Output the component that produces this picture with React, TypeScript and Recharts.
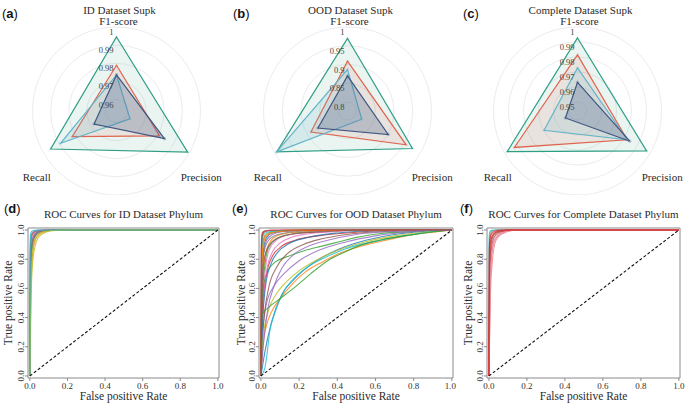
import React from 'react';
import {
  LineChart,
  Line,
  XAxis,
  YAxis,
  ReferenceArea,
  RadarChart,
  Radar,
  PolarGrid,
  PolarAngleAxis,
  PolarRadiusAxis
} from 'recharts';

const SERIF = '"Liberation Serif", "Times New Roman", serif';
const SANS = '"Liberation Sans", Arial, sans-serif';
const INK = '#2b2b2b';

// ---- radar scores (order: F1-score, Precision, Recall) ----
const metrics = ['F1-score', 'Precision', 'Recall'];

const idTeal = [0.9945, 0.999, 0.9956];
const idRed = [0.9789, 0.9811, 0.9819];
const idSky = [0.9736, 0.9623, 0.9893];
const idNavy = [0.9736, 0.9842, 0.968];

const oodTeal = [0.9693, 0.9759, 0.994];
const oodRed = [0.9088, 0.9565, 0.8885];
const oodSky = [0.8867, 0.8197, 0.994];
const oodNavy = [0.8696, 0.9013, 0.867];

const allTeal = [0.9927, 0.9972, 0.9981];
const allRed = [0.9814, 0.9823, 0.9926];
const allSky = [0.9727, 0.9823, 0.9697];
const allNavy = [0.9631, 0.9843, 0.9533];

const idTicks = [0.96, 0.97, 0.98, 0.99, 1];
const oodTicks = [0.8, 0.85, 0.9, 0.95, 1];
const allTicks = [0.95, 0.96, 0.97, 0.98, 0.99, 1];

// ---- ROC curves, [fpr, tpr] ----
const rocTicks = [0, 0.2, 0.4, 0.6, 0.8, 1];
const chance = [[0, 0], [1, 1]];

const idRoc = [
  [[0, 0], [0.004, 0.62], [0.01, 0.84], [0.02, 0.93], [0.035, 0.97], [0.06, 0.99], [0.12, 1], [1, 1]],
  [[0, 0], [0.005, 0.58], [0.012, 0.8], [0.024, 0.91], [0.04, 0.96], [0.07, 0.985], [0.14, 1], [1, 1]],
  [[0, 0], [0.003, 0.66], [0.008, 0.86], [0.016, 0.94], [0.03, 0.975], [0.06, 0.993], [0.12, 1], [1, 1]],
  [[0, 0], [0.002, 0.78], [0.006, 0.92], [0.014, 0.97], [0.03, 0.99], [0.08, 1], [1, 1]],
  [[0, 0], [0.003, 0.72], [0.008, 0.9], [0.018, 0.96], [0.035, 0.985], [0.07, 0.997], [0.15, 1], [1, 1]],
  [[0, 0], [0.004, 0.68], [0.01, 0.87], [0.02, 0.945], [0.04, 0.98], [0.08, 0.995], [0.16, 1], [1, 1]],
  [[0, 0], [0.002, 0.8], [0.005, 0.93], [0.012, 0.975], [0.025, 0.992], [0.06, 1], [1, 1]],
  [[0, 0], [0.002, 0.85], [0.006, 0.95], [0.015, 0.985], [0.04, 0.996], [0.1, 1], [1, 1]],
  [[0, 0], [0.004, 0.7], [0.012, 0.9], [0.025, 0.96], [0.05, 0.985], [0.1, 0.997], [0.2, 1], [1, 1]],
  [[0, 0], [0.005, 0.6], [0.012, 0.82], [0.022, 0.92], [0.04, 0.965], [0.07, 0.988], [0.15, 1], [1, 1]],
  [[0, 0], [0.006, 0.52], [0.014, 0.76], [0.026, 0.88], [0.045, 0.95], [0.075, 0.98], [0.12, 0.995], [0.2, 1], [1, 1]],
  [[0, 0], [0.001, 0.9], [0.004, 0.975], [0.012, 0.993], [0.04, 1], [1, 1]]
];

const oodRoc = [
  [[0, 0], [0.006, 0.7], [0.015, 0.88], [0.03, 0.95], [0.06, 0.98], [0.15, 0.995], [0.4, 1], [1, 1]],
  [[0, 0], [0.008, 0.55], [0.02, 0.8], [0.04, 0.9], [0.07, 0.95], [0.12, 0.975], [0.25, 0.99], [0.5, 1], [1, 1]],
  [[0, 0], [0.006, 0.5], [0.02, 0.75], [0.04, 0.88], [0.08, 0.94], [0.15, 0.97], [0.3, 0.99], [0.5, 1], [1, 1]],
  [[0, 0], [0.003, 0.8], [0.008, 0.95], [0.015, 0.985], [0.04, 0.995], [0.2, 1], [1, 1]],
  [[0, 0], [0.005, 0.6], [0.015, 0.85], [0.03, 0.93], [0.06, 0.97], [0.12, 0.99], [0.3, 1], [1, 1]],
  [[0, 0], [0.004, 0.7], [0.01, 0.9], [0.02, 0.96], [0.05, 0.985], [0.15, 0.995], [0.5, 1], [1, 1]],
  [[0, 0], [0.01, 0.5], [0.025, 0.75], [0.045, 0.87], [0.08, 0.93], [0.14, 0.965], [0.25, 0.985], [0.45, 1], [1, 1]],
  [[0, 0], [0.002, 0.9], [0.006, 0.98], [0.02, 0.995], [0.3, 1], [1, 1]],
  [[0, 0], [0.004, 0.75], [0.012, 0.92], [0.03, 0.97], [0.08, 0.99], [0.2, 1], [1, 1]],
  [[0, 0], [0.003, 0.85], [0.01, 0.96], [0.03, 0.985], [0.1, 0.995], [0.4, 1], [1, 1]],
  [[0, 0], [0.01, 0.08], [0.02, 0.16], [0.056, 0.37], [0.11, 0.56], [0.18, 0.67], [0.28, 0.78], [0.41, 0.87], [0.55, 0.93], [0.7, 0.97], [0.85, 0.99], [1, 1]],
  [[0, 0], [0.01, 0.2], [0.03, 0.35], [0.056, 0.44], [0.1, 0.53], [0.144, 0.6], [0.23, 0.71], [0.32, 0.78], [0.41, 0.84], [0.5, 0.88], [0.62, 0.92], [0.76, 0.96], [0.9, 0.985], [1, 1]],
  [[0, 0], [0.006, 0.55], [0.03, 0.7], [0.074, 0.78], [0.144, 0.82], [0.23, 0.86], [0.32, 0.89], [0.41, 0.92], [0.5, 0.95], [0.62, 0.975], [0.8, 0.99], [1, 1]],
  [[0, 0], [0.008, 0.45], [0.03, 0.7], [0.06, 0.82], [0.1, 0.88], [0.18, 0.93], [0.3, 0.96], [0.5, 0.985], [0.7, 1], [1, 1]],
  [[0, 0], [0.01, 0.3], [0.03, 0.5], [0.07, 0.62], [0.12, 0.7], [0.2, 0.79], [0.3, 0.86], [0.45, 0.92], [0.6, 0.96], [0.8, 0.99], [1, 1]],
  [[0, 0], [0.01, 0.3], [0.04, 0.6], [0.08, 0.74], [0.14, 0.84], [0.22, 0.9], [0.32, 0.94], [0.45, 0.97], [0.65, 0.99], [1, 1]],
  [[0, 0], [0.01, 0.4], [0.03, 0.72], [0.06, 0.85], [0.1, 0.91], [0.16, 0.95], [0.25, 0.975], [0.4, 0.99], [0.6, 1], [1, 1]],
  [[0, 0], [0.005, 0.65], [0.015, 0.84], [0.035, 0.92], [0.07, 0.96], [0.15, 0.985], [0.35, 1], [1, 1]],
  [[0, 0], [0.01, 0.25], [0.04, 0.45], [0.08, 0.56], [0.13, 0.64], [0.2, 0.72], [0.3, 0.8], [0.4, 0.86], [0.55, 0.92], [0.7, 0.96], [0.85, 0.985], [1, 1]],
  [[0, 0], [0.02, 0.05], [0.03, 0.13], [0.047, 0.31], [0.07, 0.42], [0.12, 0.58], [0.175, 0.67], [0.26, 0.76], [0.35, 0.82], [0.44, 0.87], [0.52, 0.9], [0.61, 0.925], [0.7, 0.95], [0.8, 0.97], [0.9, 0.99], [1, 1]],
  [[0, 0], [0.008, 0.35], [0.025, 0.62], [0.05, 0.76], [0.09, 0.85], [0.15, 0.91], [0.25, 0.95], [0.4, 0.98], [0.6, 0.995], [1, 1]],
  [[0, 0], [0.004, 0.72], [0.012, 0.9], [0.03, 0.96], [0.07, 0.985], [0.2, 0.997], [1, 1]],
  [[0, 0], [0.003, 0.3], [0.006, 0.42], [0.04, 0.47], [0.09, 0.52], [0.17, 0.6], [0.26, 0.7], [0.35, 0.79], [0.44, 0.85], [0.53, 0.9], [0.62, 0.93], [0.8, 0.97], [1, 1]],
  [[0, 0], [0.002, 0.85], [0.006, 0.96], [0.015, 0.99], [0.05, 1], [1, 1]],
  [[0, 0], [0.012, 0.2], [0.035, 0.45], [0.07, 0.62], [0.11, 0.74], [0.17, 0.83], [0.25, 0.89], [0.35, 0.93], [0.5, 0.97], [0.7, 0.99], [1, 1]],
  [[0, 0], [0.006, 0.6], [0.02, 0.82], [0.045, 0.9], [0.09, 0.945], [0.18, 0.975], [0.35, 0.99], [0.6, 1], [1, 1]]
];

const allRoc = [
  [[0, 0], [0.001, 0.93], [0.004, 0.985], [0.012, 0.998], [0.03, 1], [1, 1]],
  [[0, 0], [0.002, 0.88], [0.006, 0.96], [0.015, 0.99], [0.04, 1], [1, 1]],
  [[0, 0], [0.004, 0.7], [0.01, 0.88], [0.02, 0.95], [0.035, 0.975], [0.06, 0.99], [0.12, 1], [1, 1]],
  [[0, 0], [0.006, 0.6], [0.014, 0.82], [0.026, 0.92], [0.045, 0.96], [0.075, 0.985], [0.14, 1], [1, 1]],
  [[0, 0], [0.005, 0.68], [0.012, 0.86], [0.024, 0.94], [0.04, 0.97], [0.07, 0.99], [0.13, 1], [1, 1]],
  [[0, 0], [0.008, 0.55], [0.018, 0.78], [0.03, 0.9], [0.05, 0.955], [0.08, 0.98], [0.15, 1], [1, 1]],
  [[0, 0], [0.003, 0.78], [0.008, 0.91], [0.018, 0.96], [0.035, 0.985], [0.08, 0.998], [0.15, 1], [1, 1]],
  [[0, 0], [0.007, 0.62], [0.016, 0.84], [0.028, 0.92], [0.05, 0.965], [0.09, 0.99], [0.16, 1], [1, 1]],
  [[0, 0], [0.003, 0.82], [0.01, 0.93], [0.02, 0.965], [0.04, 0.985], [0.09, 0.998], [0.2, 1], [1, 1]],
  [[0, 0], [0.002, 0.85], [0.006, 0.94], [0.014, 0.975], [0.03, 0.99], [0.07, 1], [1, 1]]
];

// ---- styling ----
const radarColors = ['#2e9e84', '#e0654f', '#66b5c9', '#3e5682'];
const radarFill = [0.1, 0.12, 0.16, 0.26];

const tab10 = ['#1f77b4', '#ff7f0e', '#2ca02c', '#d62728', '#9467bd', '#8c564b', '#e377c2', '#7f7f7f', '#bcbd22', '#17becf'];
const idColors = ['#1f77b4', '#ff7f0e', '#2ca02c', '#d62728', '#9467bd', '#8c564b', '#e377c2', '#7f7f7f', '#7f7f7f', '#bcbd22', '#bcbd22', '#17becf'];
const oodColors = oodRoc.map((_, i) => tab10[i % tab10.length]);
const allColors = ['#17becf', '#7f7f7f', '#8c564b', '#e377c2', '#c44e52', '#f08080', '#b22222', '#e8909c', '#d9534f', '#d62728'];

// text nudges from the default angle-axis tick spot
const labelShift: Record<string, [number, number]> = {
  'F1-score': [2, 6],
  Precision: [5, 24],
  Recall: [0, 24]
};

function Caption(props: {
  x: number;
  y: number;
  size?: number;
  rotate?: boolean;
  children: React.ReactNode;
}) {
  const size = props.size ?? 11;
  const w = 220;
  return (
    <div
      style={{
        position: 'absolute',
        left: props.x - w / 2,
        top: props.y - size * 0.6,
        width: w,
        textAlign: 'center',
        fontFamily: SERIF,
        fontSize: size,
        lineHeight: `${size * 1.2}px`,
        color: INK,
        whiteSpace: 'nowrap',
        transform: props.rotate ? 'rotate(-90deg)' : undefined
      }}
    >
      {props.children}
    </div>
  );
}

function PanelLetter(props: { x: number; y: number; letter: string }) {
  return (
    <div
      style={{
        position: 'absolute',
        left: props.x,
        top: props.y - 8,
        fontFamily: SANS,
        fontSize: 13,
        lineHeight: '16px',
        color: '#111'
      }}
    >
      (<b>{props.letter}</b>)
    </div>
  );
}

function toRows(series: number[][]) {
  return metrics.map((metric, i) => {
    const row: Record<string, number | string> = { metric };
    series.forEach((s, k) => {
      row['s' + k] = s[i];
    });
    return row;
  });
}

function AngleTick(props: any) {
  const { x, y, payload } = props;
  const [dx, dy] = labelShift[payload.value] ?? [0, 0];
  return (
    <text x={x + dx} y={y + dy} textAnchor="middle" fontFamily={SERIF} fontSize={11} fill={INK}>
      {payload.value}
    </text>
  );
}

function RadiusTick(props: any) {
  const { x, y, payload } = props;
  return (
    <text x={x - 3} y={y + 8} textAnchor="end" fontFamily={SERIF} fontSize={8.5} fill="#444">
      {String(payload.value)}
    </text>
  );
}

function ScorePanel(props: {
  left: number;
  width: number;
  letter: string;
  title: string;
  series: number[][];
  domain: [number, number];
  ticks: number[];
}) {
  return (
    <div style={{ position: 'absolute', left: props.left, top: 0, width: props.width, height: 195 }}>
      <PanelLetter x={2} y={14} letter={props.letter} />
      <Caption x={119.5} y={11}>{props.title}</Caption>
      <RadarChart
        width={props.width}
        height={195}
        data={toRows(props.series)}
        cx={116.5}
        cy={111}
        outerRadius={84}
        margin={{ top: 0, right: 0, bottom: 0, left: 0 }}
      >
        <PolarGrid gridType="circle" radialLines={false} stroke="#ececf0" />
        <PolarAngleAxis dataKey="metric" tick={AngleTick} tickLine={false} axisLine={false} />
        <PolarRadiusAxis
          angle={90}
          type="number"
          domain={props.domain}
          ticks={props.ticks}
          tick={RadiusTick}
          axisLine={false}
          tickLine={false}
        />
        {props.series.map((_, k) => (
          <Radar
            key={k}
            dataKey={'s' + k}
            stroke={radarColors[k]}
            strokeWidth={1.2}
            fill={radarColors[k]}
            fillOpacity={radarFill[k]}
            dot={{ r: 1.8, fill: radarColors[k], stroke: 'none' }}
            isAnimationActive={false}
          />
        ))}
      </RadarChart>
    </div>
  );
}

function RotatedTick(props: any) {
  const { x, y, payload } = props;
  return (
    <text
      x={x}
      y={y}
      transform={`rotate(-90 ${x} ${y})`}
      textAnchor="middle"
      fontFamily={SERIF}
      fontSize={9}
      fill="#333"
    >
      {Number(payload.value).toFixed(1)}
    </text>
  );
}

const xDomain: [number, number] = [-0.01, 1.006];
const yDomain: [number, number] = [-0.014, 1.014];

function RocPanel(props: {
  left: number;
  width: number;
  plotLeft: number;
  plotRight: number;
  letter: string;
  title: string;
  yLabelX: number;
  curves: number[][][];
  colors: string[];
}) {
  const mid = (props.plotLeft + props.plotRight) / 2;
  return (
    <div style={{ position: 'absolute', left: props.left, top: 195, width: props.width, height: 211 }}>
      <PanelLetter x={4} y={14} letter={props.letter} />
      <Caption x={mid} y={20}>{props.title}</Caption>
      <Caption x={mid} y={202} size={11.5}>False positive Rate</Caption>
      <Caption x={props.yLabelX} y={108} size={11.5} rotate>
        True positive Rate
      </Caption>
      <LineChart
        width={props.width}
        height={211}
        margin={{ top: 33, right: props.width - props.plotRight, left: 0, bottom: 0 }}
      >
        <XAxis
          type="number"
          dataKey="x"
          domain={xDomain}
          ticks={rocTicks}
          tickFormatter={(v: number) => v.toFixed(1)}
          tickSize={3}
          tickLine={{ stroke: '#8a8a8a' }}
          axisLine={false}
          tick={{ fontSize: 9, fontFamily: SERIF, fill: '#333' }}
          height={28}
          allowDataOverflow
        />
        <YAxis
          type="number"
          domain={yDomain}
          ticks={rocTicks}
          tick={RotatedTick}
          tickSize={3}
          tickMargin={1}
          tickLine={{ stroke: '#8a8a8a' }}
          axisLine={false}
          width={props.plotLeft}
          allowDataOverflow
        />
        <ReferenceArea
          x1={xDomain[0]}
          x2={xDomain[1]}
          y1={yDomain[0]}
          y2={yDomain[1]}
          fill="none"
          fillOpacity={0}
          stroke="#8a8a8a"
          strokeWidth={1}
        />
        {props.curves.map((c, i) => (
          <Line
            key={i}
            data={c.map(([x, y]) => ({ x, y }))}
            dataKey="y"
            type="monotone"
            stroke={props.colors[i]}
            strokeWidth={1.1}
            strokeOpacity={0.8}
            dot={false}
            isAnimationActive={false}
          />
        ))}
        <Line
          data={chance.map(([x, y]) => ({ x, y }))}
          dataKey="y"
          type="linear"
          stroke="#111"
          strokeWidth={1.1}
          strokeDasharray="3 2"
          dot={false}
          isAnimationActive={false}
        />
      </LineChart>
    </div>
  );
}

export default function App() {
  return (
    <div
      style={{
        position: 'absolute',
        left: 0,
        top: 0,
        width: 686,
        height: 406,
        background: '#fff',
        overflow: 'hidden'
      }}
    >
      <ScorePanel
        left={0}
        width={231}
        letter="a"
        title="ID Dataset Supk"
        series={[idTeal, idRed, idSky, idNavy]}
        domain={[0.9537, 1]}
        ticks={idTicks}
      />
      <ScorePanel
        left={231}
        width={230}
        letter="b"
        title="OOD Dataset Supk"
        series={[oodTeal, oodRed, oodSky, oodNavy]}
        domain={[0.776, 1]}
        ticks={oodTicks}
      />
      <ScorePanel
        left={461}
        width={225}
        letter="c"
        title="Complete Dataset Supk"
        series={[allTeal, allRed, allSky, allNavy]}
        domain={[0.944, 1]}
        ticks={allTicks}
      />
      <RocPanel
        left={0}
        width={228}
        plotLeft={28}
        plotRight={219}
        letter="d"
        title="ROC Curves for ID Dataset Phylum"
        yLabelX={9}
        curves={idRoc}
        colors={idColors}
      />
      <RocPanel
        left={228}
        width={228}
        plotLeft={31}
        plotRight={225}
        letter="e"
        title="ROC Curves for OOD Dataset Phylum"
        yLabelX={14}
        curves={oodRoc}
        colors={oodColors}
      />
      <RocPanel
        left={456}
        width={230}
        plotLeft={31}
        plotRight={224}
        letter="f"
        title="ROC Curves for Complete Dataset Phylum"
        yLabelX={12.5}
        curves={allRoc}
        colors={allColors}
      />
    </div>
  );
}
